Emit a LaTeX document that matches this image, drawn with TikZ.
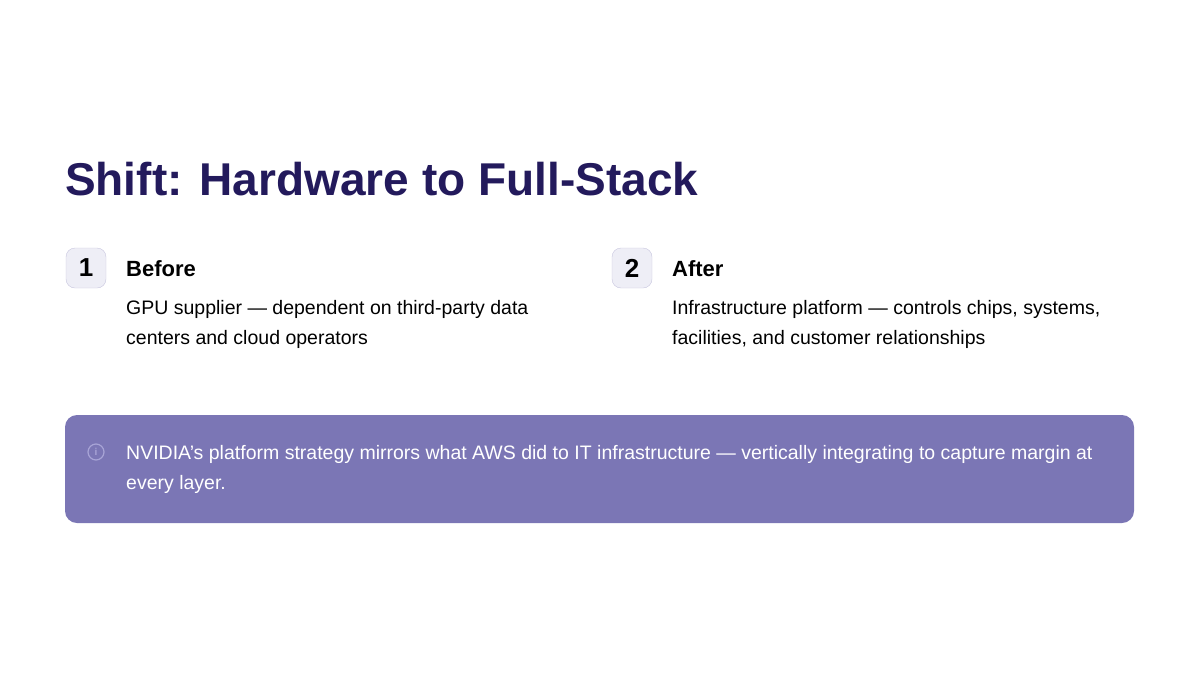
\documentclass[tikz,border=0pt]{standalone}
\usepackage{fontspec}
\setmainfont{Liberation Sans}
\usetikzlibrary{positioning}
\definecolor{titleInk}{HTML}{231A5C}
\definecolor{badgeFill}{HTML}{EEEEF6}
\definecolor{badgeLine}{HTML}{C8C6DE}
\definecolor{noteFill}{HTML}{7B76B5}
\definecolor{iconLine}{HTML}{A8A4D6}
\tikzset{
  badge/.style={draw=badgeLine,fill=badgeFill,rounded corners=9pt,minimum size=40pt,inner sep=0pt,font=\fontsize{26}{30}\selectfont\bfseries},
  head/.style={anchor=base west,inner sep=0pt,font=\fontsize{22}{26}\selectfont\bfseries},
  body/.style={anchor=base west,inner sep=0pt,align=left,font=\fontsize{19.5}{30}\selectfont},
}
\begin{document}
\begin{tikzpicture}[x=1pt,y=1pt]
\useasboundingbox (0,0) rectangle (1200,-675);
\node[anchor=base west,inner sep=0pt,text=titleInk,font=\fontsize{46}{54}\selectfont\bfseries] (title) at (65,-195) {Shift: Hardware to Full-Stack};
% before
\node[badge] (b1) at (86,-268) {1};
\node[head] (h1) at (126,-276) {Before};
\node[body] (t1) at (126,-344) {GPU supplier — dependent on third-party data\\centers and cloud operators};
% after
\node[badge] (b2) at (632,-268) {2};
\node[head] (h2) at (672,-276) {After};
\node[body] (t2) at (672,-344) {Infrastructure platform — controls chips, systems,\\facilities, and customer relationships};
% note
\fill[noteFill,rounded corners=12pt] (65,-415) rectangle (1134,-523);
\draw[iconLine,line width=1.2pt] (96,-452) circle (8pt);
\node[iconLine,font=\fontsize{10}{10}\selectfont\bfseries] (icon) at (96,-452) {i};
\node[body,text=white] (note) at (126,-489) {NVIDIA's platform strategy mirrors what AWS did to IT infrastructure — vertically integrating to capture margin at\\every layer.};
\end{tikzpicture}
\end{document}
